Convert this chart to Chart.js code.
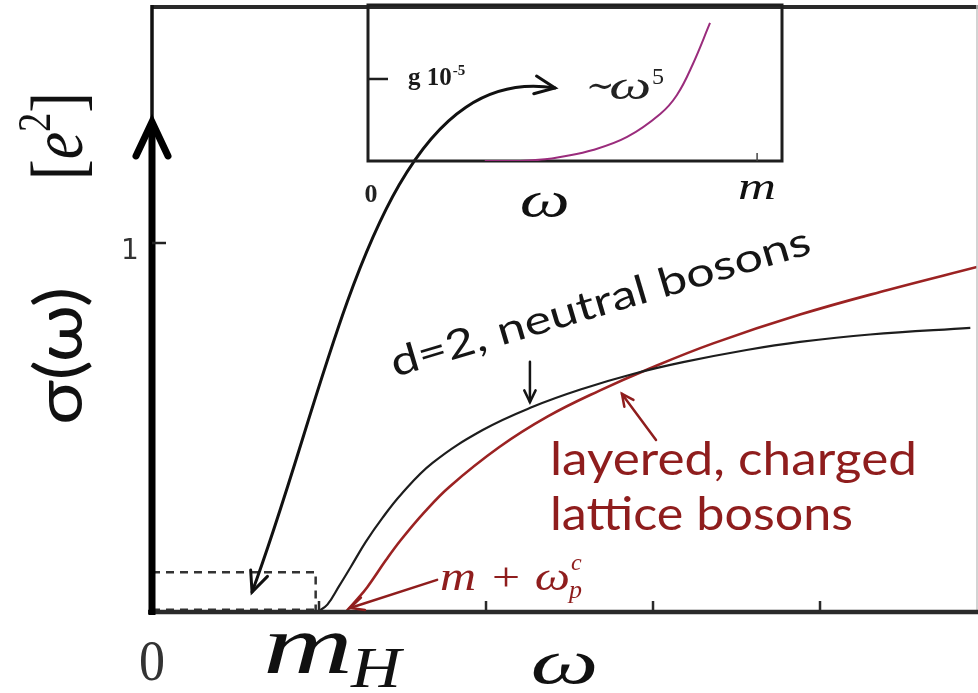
<!DOCTYPE html>
<html><head><meta charset="utf-8">
<script src="https://cdn.jsdelivr.net/npm/chart.js@4.4.1/dist/chart.umd.min.js"></script>
<style>
html,body{margin:0;padding:0;background:#fff;}
#wrap{position:relative;width:978px;height:693px;overflow:hidden;background:#fff;}
#main{position:absolute;left:0;top:0;}
#inset{position:absolute;left:360px;top:0;}
</style></head><body>
<div id="wrap"><canvas id="main" width="978" height="693"></canvas><canvas id="inset" width="430" height="230"></canvas></div>
<script>
// ---------- data ----------
// main panel: x in units of the tick spacing (m_H = 1), y in units of e^2
const neutralOmega = [0.99, 1.05, 1.12, 1.19, 1.28, 1.38, 1.49, 1.68, 1.98, 2.28, 2.58, 2.88, 3.18, 3.56, 3.88, 4.30, 4.90];
const neutralSigma = [0.000, 0.020, 0.070, 0.122, 0.190, 0.255, 0.318, 0.404, 0.493, 0.556, 0.605, 0.645, 0.677, 0.710, 0.732, 0.752, 0.770];
const chargedOmega = [1.16, 1.22, 1.29, 1.40, 1.49, 1.63, 1.78, 2.08, 2.37, 2.68, 2.98, 3.36, 3.88, 4.40, 4.94];
const chargedSigma = [0.000, 0.030, 0.068, 0.140, 0.195, 0.270, 0.339, 0.447, 0.530, 0.600, 0.660, 0.728, 0.806, 0.872, 0.935];
// inset: x in units of m, y in units of g 10^-5
const insetOmega = [0.30, 0.391, 0.455, 0.494, 0.578, 0.666, 0.751, 0.794, 0.835, 0.879];
const insetSigma = [0.000, 0.000, 0.020, 0.049, 0.134, 0.293, 0.573, 0.805, 1.183, 1.683];
// ticks
const xTicks = [0, 1, 2, 3, 4];
const xTickLabels = ['0', 'm_H', '', '', ''];
const yTicks = [1];
const yTickLabels = ['1'];
const insetXTicks = [1];
const insetXTickLabels = ['m'];
const insetYTicks = [1];
const insetYTickLabels = ['g 10^-5'];

// ---------- helpers ----------
const SERIF = '"Liberation Serif", "DejaVu Serif", serif';
const SANS = 'Lato, "Open Sans", sans-serif';
const RED = '#8f1d1d';
const INK = '#1b1b1b';

function drawText(ctx, s, x, y, o) {
  ctx.save();
  ctx.translate(x, y);
  if (o.rot) ctx.rotate(o.rot * Math.PI / 180);
  ctx.font = o.font;
  ctx.fillStyle = o.color || INK;
  ctx.textBaseline = o.baseline || 'alphabetic';
  ctx.textAlign = 'left';
  const w = ctx.measureText(s).width;
  const sx = o.width ? o.width / w : 1;
  const ax = o.align === 'center' ? -w * sx / 2 : (o.align === 'right' ? -w * sx : 0);
  ctx.translate(ax, 0);
  ctx.scale(sx, 1);
  ctx.fillText(s, 0, 0);
  ctx.restore();
  return w * sx;
}
function drawPieces(ctx, pieces, x, y, o) {
  ctx.save();
  ctx.translate(x, y);
  if (o.rot) ctx.rotate(o.rot * Math.PI / 180);
  ctx.fillStyle = o.color || INK;
  ctx.textBaseline = 'alphabetic';
  ctx.textAlign = 'left';
  let total = 0;
  const ws = pieces.map(p => { ctx.font = p.font; const w = ctx.measureText(p.t).width + (p.gap || 0); total += w; return w; });
  const sx = o.width ? o.width / total : 1;
  const start = o.align === 'center' ? -total * sx / 2 : 0;
  ctx.translate(start, 0);
  ctx.scale(sx, 1);
  let cx = 0;
  pieces.forEach((p, i) => { ctx.font = p.font; ctx.fillText(p.t, cx, p.dy || 0); cx += ws[i]; });
  ctx.restore();
}
function arrowHead(ctx, tx, ty, fx, fy, len, spread) {
  const a = Math.atan2(ty - fy, tx - fx);
  ctx.beginPath();
  ctx.moveTo(tx - len * Math.cos(a - spread), ty - len * Math.sin(a - spread));
  ctx.lineTo(tx, ty);
  ctx.lineTo(tx - len * Math.cos(a + spread), ty - len * Math.sin(a + spread));
  ctx.stroke();
}
function arrow(ctx, x0, y0, x1, y1, color, lw, len) {
  ctx.save();
  ctx.strokeStyle = color; ctx.lineWidth = lw; ctx.lineCap = 'round'; ctx.lineJoin = 'miter';
  ctx.beginPath(); ctx.moveTo(x0, y0); ctx.lineTo(x1, y1); ctx.stroke();
  arrowHead(ctx, x1, y1, x0, y0, len, 0.45);
  ctx.restore();
}

// ---------- annotation anchors (data units of the main panel) ----------
const dashedBox = { x0: 0, x1: 0.98, y0: 0.006, y1: 0.108 };
const yAxisArrowTip = 1.328;
const bigArrow = [[0.599, 0.054], [1.096, 0.656], [1.365, 1.496], [2.413, 1.420]];
const neutralPointer = [[2.263, 0.678], [2.263, 0.569]];
const chargedPointer = [[3.018, 0.466], [2.814, 0.591]];
const edgePointer = [[1.707, 0.087], [1.186, 0.011]];

const mainDecor = {
  id: 'mainDecor',
  beforeDatasetsDraw(chart) {
    const ctx = chart.ctx, xs = chart.scales.x, ys = chart.scales.y;
    const X = v => xs.getPixelForValue(v), Y = v => ys.getPixelForValue(v);
    ctx.save();
    ctx.strokeStyle = '#333'; ctx.lineWidth = 2.5; ctx.setLineDash([8, 6]);
    ctx.beginPath();
    ctx.moveTo(X(dashedBox.x0), Y(dashedBox.y1)); ctx.lineTo(X(dashedBox.x1), Y(dashedBox.y1));
    ctx.lineTo(X(dashedBox.x1), Y(0));
    ctx.moveTo(X(dashedBox.x0), Y(dashedBox.y0)); ctx.lineTo(X(dashedBox.x1), Y(dashedBox.y0));
    ctx.stroke();
    ctx.restore();
  },
  afterDatasetsDraw(chart) {
    const ctx = chart.ctx, ca = chart.chartArea, xs = chart.scales.x, ys = chart.scales.y;
    const X = v => xs.getPixelForValue(v), Y = v => ys.getPixelForValue(v);
    ctx.save();
    ctx.lineCap = 'butt';
    ctx.strokeStyle = '#2a2a2a'; ctx.lineWidth = 4;
    ctx.beginPath(); ctx.moveTo(ca.left, ca.top + 2); ctx.lineTo(ca.right + 1, ca.top + 2); ctx.stroke();
    ctx.strokeStyle = '#c4c4c4'; ctx.lineWidth = 1.5;
    ctx.beginPath(); ctx.moveTo(ca.right, ca.top); ctx.lineTo(ca.right, ca.bottom); ctx.stroke();
    ctx.strokeStyle = '#2a2a2a'; ctx.lineWidth = 4.5;
    ctx.beginPath(); ctx.moveTo(ca.left - 4, Y(0)); ctx.lineTo(ca.right + 1, Y(0)); ctx.stroke();
    ctx.lineWidth = 2.5;
    xTicks.forEach(v => { if (v > 0) { ctx.beginPath(); ctx.moveTo(X(v), Y(0)); ctx.lineTo(X(v), Y(0) - 11); ctx.stroke(); } });
    ctx.strokeStyle = '#111'; ctx.lineWidth = 3.5;
    ctx.beginPath(); ctx.moveTo(X(0), ca.top); ctx.lineTo(X(0), Y(yAxisArrowTip) + 6); ctx.stroke();
    ctx.strokeStyle = '#000'; ctx.lineWidth = 7;
    ctx.beginPath(); ctx.moveTo(X(0), Y(0) + 3); ctx.lineTo(X(0), Y(yAxisArrowTip) + 4); ctx.stroke();
    ctx.lineCap = 'round'; ctx.lineJoin = 'miter';
    ctx.beginPath();
    ctx.moveTo(X(0) - 16, Y(yAxisArrowTip) + 34); ctx.lineTo(X(0), Y(yAxisArrowTip)); ctx.lineTo(X(0) + 16, Y(yAxisArrowTip) + 34);
    ctx.stroke();
    ctx.lineCap = 'butt'; ctx.lineWidth = 2.5; ctx.strokeStyle = '#222';
    yTicks.forEach(v => { ctx.beginPath(); ctx.moveTo(X(0), Y(v)); ctx.lineTo(X(0) + 14, Y(v)); ctx.stroke(); });
    ctx.restore();

    yTicks.forEach((v, i) => drawText(ctx, yTickLabels[i], X(0) - 22, Y(v) + 16, { font: '28px "DejaVu Sans", sans-serif', color: '#333', align: 'center' }));
    xTicks.forEach((v, i) => {
      const lab = xTickLabels[i];
      if (!lab) return;
      if (lab === 'm_H') {
        drawText(ctx, 'm', X(v) - 56, Y(0) + 61, { font: 'italic 84px ' + SERIF, color: '#111', width: 90 });
        drawText(ctx, 'H', X(v) + 32, Y(0) + 75, { font: 'italic 58px ' + SERIF, color: '#111', width: 50 });
      } else {
        drawText(ctx, lab, X(v), Y(0) + 68, { font: '58px ' + SERIF, color: '#333', align: 'center', width: 26 });
      }
    });
    drawText(ctx, 'ω', (ca.left + ca.right) / 2, Y(0) + 71, { font: 'italic 64px ' + SERIF, color: '#111', align: 'center', width: 68 });
    drawText(ctx, 'σ(ω)', 82, 356, { font: '66px ' + SANS, color: '#111', align: 'center', rot: -90, width: 138 });
    drawPieces(ctx, [
      { t: '[', font: '74px ' + SERIF },
      { t: 'e', font: 'italic 74px ' + SERIF },
      { t: '2', font: '46px ' + SERIF, dy: -32 },
      { t: ']', font: '74px ' + SERIF }
    ], 82, 136, { rot: -90, align: 'center', width: 88, color: '#111' });

    const P = bigArrow.map(p => [X(p[0]), Y(p[1])]);
    ctx.save();
    ctx.strokeStyle = '#111'; ctx.lineWidth = 3; ctx.lineCap = 'round';
    ctx.beginPath(); ctx.moveTo(P[0][0], P[0][1]);
    ctx.bezierCurveTo(P[1][0], P[1][1], P[2][0], P[2][1], P[3][0], P[3][1]); ctx.stroke();
    arrowHead(ctx, P[0][0], P[0][1], P[1][0], P[1][1], 22, 0.42);
    arrowHead(ctx, P[3][0], P[3][1], P[2][0], P[2][1], 22, 0.42);
    ctx.restore();

    drawText(ctx, 'd=2, neutral bosons', X(1.455), Y(0.637), { font: '40px ' + SANS, color: '#151515', rot: -16.5, width: 436 });
    arrow(ctx, X(neutralPointer[0][0]), Y(neutralPointer[0][1]), X(neutralPointer[1][0]), Y(neutralPointer[1][1]), '#151515', 2.5, 13);
    drawText(ctx, 'layered, charged', X(2.383), Y(0.371), { font: '47px ' + SANS, color: RED, width: 367 });
    drawText(ctx, 'lattice bosons', X(2.383), Y(0.222), { font: '47px ' + SANS, color: RED, width: 303 });
    arrow(ctx, X(chargedPointer[0][0]), Y(chargedPointer[0][1]), X(chargedPointer[1][0]), Y(chargedPointer[1][1]), RED, 2.5, 13);
    arrow(ctx, X(edgePointer[0][0]), Y(edgePointer[0][1]), X(edgePointer[1][0]), Y(edgePointer[1][1]), RED, 2.5, 15);
    const bx = X(1.725), by = Y(0.060);
    drawText(ctx, 'm + ω', bx, by, { font: 'italic 40px ' + SERIF, color: RED, width: 130 });
    drawText(ctx, 'c', bx + 131, by - 20, { font: 'italic 24px ' + SERIF, color: RED });
    drawText(ctx, 'p', bx + 129, by + 8, { font: 'italic 26px ' + SERIF, color: RED });
  }
};

new Chart(document.getElementById('main'), {
  type: 'scatter',
  data: {
    datasets: [
      { label: 'd=2, neutral bosons', data: neutralOmega.map((x, i) => ({ x, y: neutralSigma[i] })),
        showLine: true, borderColor: '#1d1d1d', borderWidth: 2.2, pointRadius: 0, tension: 0.4, fill: false },
      { label: 'layered, charged lattice bosons', data: chargedOmega.map((x, i) => ({ x, y: chargedSigma[i] })),
        showLine: true, borderColor: '#9b2222', borderWidth: 2.6, pointRadius: 0, tension: 0.4, fill: false }
    ]
  },
  options: {
    responsive: false, animation: false, devicePixelRatio: 1,
    layout: { padding: { left: 152, right: 1, top: 5, bottom: 81 } },
    plugins: { legend: { display: false }, tooltip: { enabled: false } },
    scales: {
      x: { type: 'linear', min: 0, max: 4.94, display: false },
      y: { type: 'linear', min: 0, max: 1.645, display: false }
    }
  },
  plugins: [mainDecor]
});

const insetDecor = {
  id: 'insetDecor',
  beforeDatasetsDraw(chart) {
    const ctx = chart.ctx, ca = chart.chartArea, xs = chart.scales.x, ys = chart.scales.y;
    const X = v => xs.getPixelForValue(v), Y = v => ys.getPixelForValue(v);
    ctx.save();
    ctx.strokeStyle = '#1e1e1e'; ctx.lineWidth = 3; ctx.lineCap = 'square';
    ctx.strokeRect(ca.left, ca.top, ca.right - ca.left, Y(0) - ca.top);
    ctx.lineWidth = 2.5; ctx.lineCap = 'butt';
    insetYTicks.forEach(v => { ctx.beginPath(); ctx.moveTo(X(0), Y(v)); ctx.lineTo(X(0) + 20, Y(v)); ctx.stroke(); });
    ctx.lineWidth = 1.5; ctx.strokeStyle = '#444';
    insetXTicks.forEach(v => { ctx.beginPath(); ctx.moveTo(X(v), Y(0)); ctx.lineTo(X(v), Y(0) - 8); ctx.stroke(); });
    ctx.restore();
  },
  afterDatasetsDraw(chart) {
    const ctx = chart.ctx, xs = chart.scales.x, ys = chart.scales.y;
    const X = v => xs.getPixelForValue(v), Y = v => ys.getPixelForValue(v);
    drawText(ctx, '0', X(0) + 3, Y(0) + 41, { font: 'bold 26px ' + SERIF, color: '#222', align: 'center' });
    insetXTicks.forEach((v, i) => drawText(ctx, insetXTickLabels[i], X(v), Y(0) + 38, { font: 'italic 38px ' + SERIF, color: '#111', align: 'center', width: 38 }));
    drawText(ctx, 'ω', X(0.454), Y(0) + 56, { font: 'italic 50px ' + SERIF, color: '#111', align: 'center', width: 50 });
    insetYTicks.forEach(v => {
      const w = drawText(ctx, 'g 10', X(0) + 40, Y(v) + 6, { font: 'bold 25px ' + SERIF, color: '#1a1a1a' });
      drawText(ctx, '-5', X(0) + 40 + w + 1, Y(v) - 4, { font: 'bold 15px ' + SERIF, color: '#1a1a1a' });
    });
    drawText(ctx, '∼', X(0.56), Y(0) - 64, { font: '34px ' + SERIF, color: '#222' });
    drawText(ctx, 'ω', X(0.62), Y(0) - 62, { font: 'italic 40px ' + SERIF, color: '#222', width: 42 });
    drawText(ctx, '5', X(0.73), Y(0) - 77, { font: '24px ' + SERIF, color: '#222' });
  }
};

new Chart(document.getElementById('inset'), {
  type: 'scatter',
  data: {
    datasets: [
      { label: '~ω^5', data: insetOmega.map((x, i) => ({ x, y: insetSigma[i] })),
        showLine: true, borderColor: '#9a2c7c', borderWidth: 2, pointRadius: 0, tension: 0.4, fill: false }
    ]
  },
  options: {
    responsive: false, animation: false, devicePixelRatio: 1,
    layout: { padding: { left: 8, right: 8, top: 5, bottom: 69 } },
    plugins: { legend: { display: false }, tooltip: { enabled: false } },
    scales: {
      x: { type: 'linear', min: 0, max: 1.064, display: false },
      y: { type: 'linear', min: 0, max: 1.902, display: false }
    }
  },
  plugins: [insetDecor]
});
</script>
</body></html>
